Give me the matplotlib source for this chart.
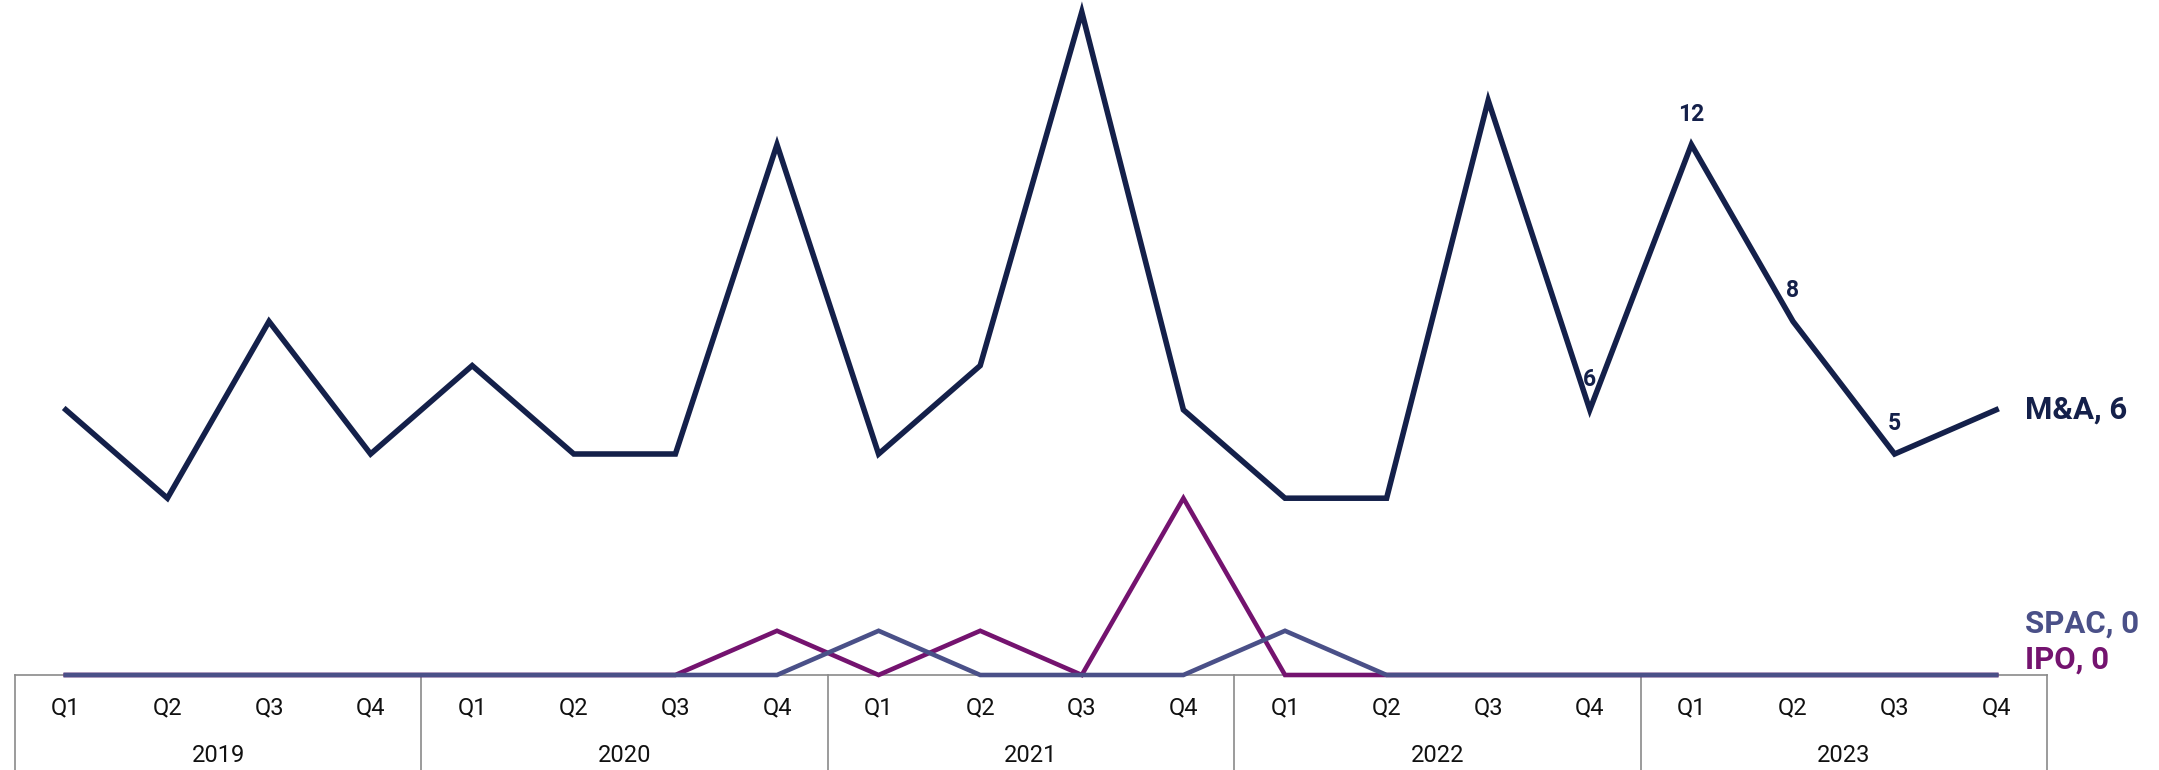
import matplotlib
matplotlib.use("Agg")
import matplotlib.pyplot as plt
import matplotlib.transforms as mtransforms

# data
years = ["2019", "2020", "2021", "2022", "2023"]
quarters = ["Q1", "Q2", "Q3", "Q4"]
ma = [6, 4, 8, 5, 7, 5, 5, 12, 5, 7, 15, 6, 4, 4, 13, 6, 12, 8, 5, 6]
ipo = [0, 0, 0, 0, 0, 0, 0, 1, 0, 1, 0, 4, 0, 0, 0, 0, 0, 0, 0, 0]
spac = [0, 0, 0, 0, 0, 0, 0, 0, 1, 0, 0, 0, 1, 0, 0, 0, 0, 0, 0, 0]
labelled = [15, 16, 17, 18]  # points with value labels

c_ma = "#14204a"
c_ipo = "#74136f"
c_spac = "#4a5088"
c_axis = "#8a8a8a"

plt.rcParams["font.family"] = ["Roboto", "DejaVu Sans"]

fig = plt.figure(figsize=(21.59, 7.70), dpi=100)
ax = fig.add_axes([15 / 2159, 95 / 770, (2047 - 15) / 2159, 675 / 770])

x = list(range(len(ma)))
ax.plot(x, ipo, color=c_ipo, lw=3.3, clip_on=False, solid_joinstyle="miter", zorder=3)
ax.plot(x, spac, color=c_spac, lw=3.3, clip_on=False, solid_joinstyle="miter", zorder=4)
ax.plot(x, ma, color=c_ma, lw=4.0, clip_on=False, solid_joinstyle="miter", zorder=5)

for i in labelled:
    ax.annotate(str(ma[i]), (x[i], ma[i]), xytext=(0, 22), textcoords="offset points",
                ha="center", va="center", fontsize=16.5, fontweight="bold", color=c_ma)

ends = [("M&A", ma, c_ma, 0), ("SPAC", spac, c_spac, 37), ("IPO", ipo, c_ipo, 11)]
for name, vals, col, dy in ends:
    ax.annotate(f"{name}, {vals[-1]}", (x[-1], vals[-1]), xytext=(21, dy),
                textcoords="offset points", ha="left", va="center",
                fontsize=22.5, fontweight="bold", color=col, annotation_clip=False)

ax.set_xlim(-0.5, len(ma) - 0.5)
ax.set_ylim(0, 15 * 675 / 663)
ax.axis("off")

# two-level category axis
trans = mtransforms.blended_transform_factory(ax.transData, ax.transAxes)
bottom = -95 / 675
ax.plot([-0.5, len(ma) - 0.5], [0, 0], transform=trans, color=c_axis, lw=1.2,
        clip_on=False, zorder=1)
for k in range(len(years) + 1):
    xb = -0.5 + 4 * k
    ax.plot([xb, xb], [0, bottom], transform=trans, color=c_axis, lw=1.2, clip_on=False)
for k, yr in enumerate(years):
    for j, q in enumerate(quarters):
        ax.text(4 * k + j, -33 / 675, q, transform=trans, ha="center", va="center",
                fontsize=17, color="#111111")
    ax.text(4 * k + 1.5, -80 / 675, yr, transform=trans, ha="center", va="center",
            fontsize=17, color="#111111")

fig.savefig("out.png", dpi=100)
